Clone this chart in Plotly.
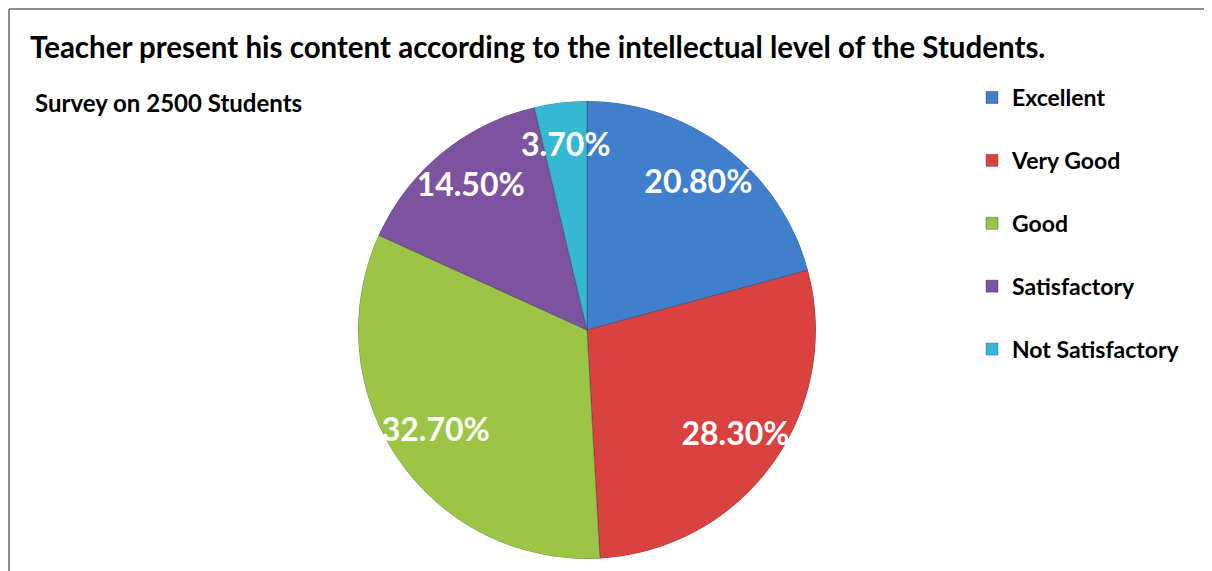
import numpy as np
import plotly.graph_objects as go

# survey results
categories = ["Excellent", "Very Good", "Good", "Satisfactory", "Not Satisfactory"]
shares = [20.8, 28.3, 32.7, 14.5, 3.7]
colors = ["#3f7fcc", "#d9423f", "#9cc545", "#7d539f", "#37b8d2"]

# the page body has an 8px margin, so work in plot pixels = screen pixels - 8
W, H = 1204, 563
FONT = "Lato, 'Open Sans', sans-serif"

cx, cy, R = 579, 322, 229  # pie centre / radius in plot pixels
LABEL_R = 0.8              # labels sit at ~0.8 of the radius, as in the original
domain = dict(x=[(cx - R) / W, (cx + R) / W], y=[1 - (cy + R) / H, 1 - (cy - R) / H])

# pie drawn as full-radius polar wedges: width and mid-angle from each share
total = sum(shares)
widths = np.array(shares) / total * 360
mid_angles = np.cumsum(widths) - widths / 2

fig = go.Figure()
for name, share, w, a, c in zip(categories, shares, widths, mid_angles, colors):
    fig.add_trace(
        go.Barpolar(
            r=[1],
            theta=[a],
            width=[w],
            name=name,
            legendgroup=name,
            marker=dict(color=c, line=dict(color="rgba(30,40,60,0.35)", width=1)),
            hovertemplate=f"{name}: {share:.1f}%<extra></extra>",
        )
    )

fig.add_trace(
    go.Scatterpolar(
        r=[LABEL_R] * len(shares),
        theta=mid_angles,
        mode="text",
        text=[f"{v:.2f}%" for v in shares],
        textfont=dict(family=FONT, size=32, color="white", weight="bold"),
        showlegend=False,
        hoverinfo="skip",
    )
)

fig.update_layout(
    width=W,
    height=H,
    margin=dict(l=0, r=0, t=0, b=0),
    paper_bgcolor="white",
    font=dict(family=FONT, color="black"),
    polar=dict(
        domain=domain,
        bgcolor="rgba(0,0,0,0)",
        bargap=0,
        hole=0,
        radialaxis=dict(range=[0, 1], visible=False, showgrid=False),
        angularaxis=dict(rotation=90, direction="clockwise", visible=False, showgrid=False),
    ),
    showlegend=True,
    legend=dict(
        x=964 / W,
        y=1 - 68 / H,
        xanchor="left",
        yanchor="top",
        font=dict(size=23, weight="bold", family=FONT),
        tracegroupgap=30,
        itemwidth=30,
    ),
    annotations=[
        dict(
            text="Teacher present his content according to the intellectual level of the Students.",
            x=20 / W, y=1 - 39 / H, xref="paper", yref="paper",
            xanchor="left", yanchor="middle", showarrow=False,
            font=dict(size=29.5, weight="bold", family=FONT),
        ),
        dict(
            text="Survey on 2500 Students",
            x=25 / W, y=1 - 95 / H, xref="paper", yref="paper",
            xanchor="left", yanchor="middle", showarrow=False,
            font=dict(size=24, weight="bold", family=FONT),
        ),
    ],
    shapes=[
        # chart frame: only its top and left edges fall inside the picture
        dict(type="line", xref="paper", yref="paper", x0=1 / W, x1=1.01, y0=1 - 1 / H, y1=1 - 1 / H,
             line=dict(color="#8c8c8c", width=2)),
        dict(type="line", xref="paper", yref="paper", x0=1 / W, x1=1 / W, y0=-0.01, y1=1 - 1 / H,
             line=dict(color="#8c8c8c", width=2)),
    ],
)

fig.write_html("out.html")
